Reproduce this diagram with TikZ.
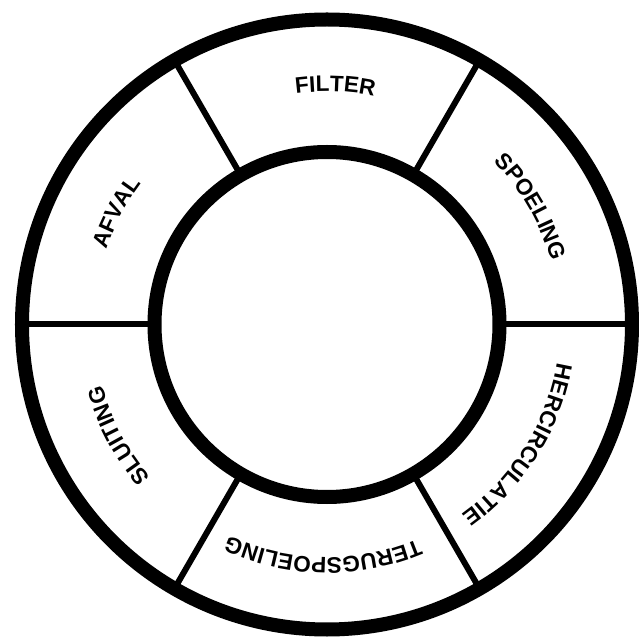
\documentclass[tikz,border=0pt]{standalone}
\usepackage{fontspec}
\setmainfont{Liberation Sans}
\usetikzlibrary{decorations.text}
\tikzset{
  ringline/.style={line width=0.35cm},
  spoke/.style={line width=0.15cm},
  ringlabel/.style={decorate,decoration={text along path,text align=center,
      text={|\fontsize{16pt}{18pt}\selectfont\bfseries|#1}}}
}
\begin{document}
\begin{tikzpicture}[x=0.025cm,y=0.025cm]
  \fill[white] (-327,-313.5) rectangle (312,324.5);
  \useasboundingbox (-327,-313.5) rectangle (312,324.5);
  \coordinate (c) at (0,0);
  % spokes between the two rings
  \foreach \a in {0,60,...,300}
    \draw[spoke] (\a:172) -- (\a:305);
  \draw[ringline] (c) circle[radius=305];
  \draw[ringline] (c) circle[radius=172.5];
  % labels, clockwise
  \foreach \ang/\txt in {88/FILTER,30/SPOELING,328/HERCIRCULATIE,269/TERUGSPOELING,208/SLUITING,152/AFVAL}
    \path[ringlabel/.expanded=\txt] (\ang+40:233) arc[start angle=\ang+40,end angle=\ang-40,radius=233];
\end{tikzpicture}
\end{document}
